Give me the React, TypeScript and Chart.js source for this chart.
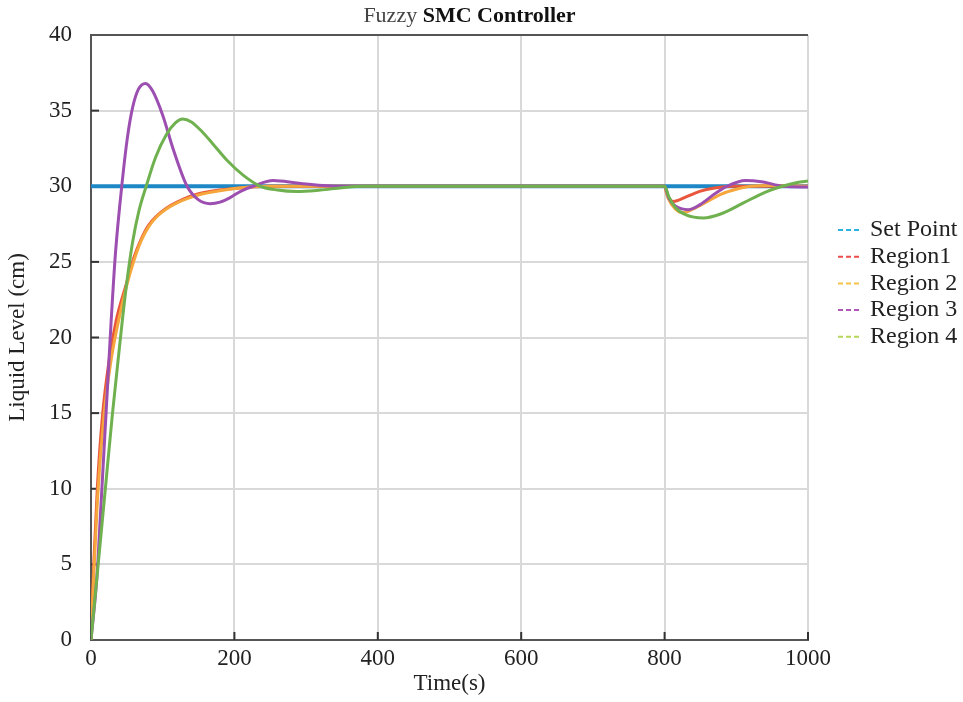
import React, { useEffect, useRef } from "react";
import { Chart, registerables } from "chart.js";

Chart.register(...registerables);

const titleNormal = "Fuzzy ";
const titleBold = "SMC Controller";
const xAxisTitle = "Time(s)";
const yAxisTitle = "Liquid Level (cm)";

const seriesNames = ["Set Point", "Region1", "Region 2", "Region 3", "Region 4"];
const lineColors = ["#1e88c7", "#e8573c", "#f5a63d", "#9c4fb0", "#70b14f"];
const legendColors = ["#2bb2e0", "#ee4b4b", "#f6c24c", "#b057b8", "#b6d65a"];
const lineWidths = [4, 3, 3, 3, 3];

const xTicks = [0, 200, 400, 600, 800, 1000];
const yTicks = [0, 5, 10, 15, 20, 25, 30, 35, 40];

const setPointTime = [0, 1000];
const setPointLevel = [30, 30];

const region1Time = [0, 4, 9, 16, 25, 35, 49, 60, 70, 80, 92, 105, 120, 150, 200, 250, 400, 600, 800, 803, 812, 830, 849, 870, 895, 950, 1000];
const region1Level = [0, 5.2, 10.2, 14.8, 18.4, 21.1, 23.5, 25.3, 26.5, 27.4, 28.05, 28.55, 28.95, 29.5, 29.85, 30, 30, 30, 30, 29.5, 29.0, 29.3, 29.66, 29.88, 30, 30, 30];

const region2Time = [0, 4, 9, 18, 27, 37, 49, 60, 70, 80, 92, 105, 120, 135, 152, 180, 200, 250, 400, 600, 800, 805, 815, 825, 840, 860, 880, 900, 920, 950, 1000];
const region2Level = [0, 4.5, 9.3, 14.8, 18.2, 20.8, 23.3, 25.1, 26.4, 27.3, 28.0, 28.5, 28.9, 29.2, 29.45, 29.7, 29.85, 30, 30, 30, 30, 29.2, 28.5, 28.25, 28.5, 29.0, 29.5, 29.8, 30.0, 30.05, 30];

const region3Time = [0, 8, 14, 21, 28, 34, 44, 51, 58, 66, 76, 86, 100, 115, 134, 150, 166, 180, 194, 210, 226, 254, 290, 348, 400, 600, 800, 806, 815, 833, 850, 870, 887, 913, 935, 966, 1000];
const region3Level = [0, 4, 9, 15, 21, 25.5, 30.5, 33.3, 35.2, 36.4, 36.8, 36.3, 34.7, 32.4, 30, 29.1, 28.85, 28.95, 29.25, 29.7, 30.0, 30.38, 30.2, 30.0, 30, 30, 30, 29.2, 28.7, 28.45, 28.8, 29.5, 30.0, 30.38, 30.3, 30.0, 29.95];

const region4Time = [0, 10, 20, 30, 40, 49, 58, 67, 77, 90, 105, 118, 128, 140, 155, 170, 190, 213, 236, 260, 287, 320, 350, 380, 600, 800, 806, 815, 830, 854, 880, 910, 940, 964, 985, 1000];
const region4Level = [0, 5, 10, 15, 19.5, 23.3, 26.3, 28.4, 30, 31.9, 33.4, 34.2, 34.45, 34.25, 33.6, 32.8, 31.7, 30.7, 30.0, 29.75, 29.65, 29.75, 29.9, 30, 30, 30, 29.3, 28.6, 28.1, 27.9, 28.2, 28.9, 29.6, 30.0, 30.25, 30.35];

const seriesTimes = [setPointTime, region1Time, region2Time, region3Time, region4Time];
const seriesLevels = [setPointLevel, region1Level, region2Level, region3Level, region4Level];

const FONT = '"Liberation Serif", "Times New Roman", serif';

const overlayPlugin = {
  id: "overlay",
  beforeDatasetsDraw(chart: any) {
    const { ctx, chartArea, scales } = chart;
    ctx.save();
    ctx.strokeStyle = "#333";
    ctx.lineWidth = 2;
    yTicks.forEach((v) => {
      if (v === 0 || v === 40) return;
      const py = scales.y.getPixelForValue(v);
      ctx.beginPath();
      ctx.moveTo(chartArea.left, py);
      ctx.lineTo(chartArea.left + 8, py);
      ctx.stroke();
    });
    xTicks.forEach((v) => {
      if (v === 0) return;
      const px = scales.x.getPixelForValue(v);
      ctx.beginPath();
      ctx.moveTo(px, chartArea.bottom);
      ctx.lineTo(px, chartArea.bottom - 8);
      ctx.stroke();
    });
    ctx.restore();
  },
  afterDraw(chart: any) {
    const { ctx, chartArea } = chart;
    ctx.save();
    ctx.textBaseline = "middle";
    ctx.textAlign = "left";
    ctx.font = `22px ${FONT}`;
    const w1 = ctx.measureText(titleNormal).width;
    ctx.font = `bold 22px ${FONT}`;
    const w2 = ctx.measureText(titleBold).width;
    const cx = (chartArea.left + chartArea.right) / 2 + 20;
    const tx = cx - (w1 + w2) / 2;
    ctx.font = `22px ${FONT}`;
    ctx.fillStyle = "#444";
    ctx.fillText(titleNormal, tx, 16);
    ctx.font = `bold 22px ${FONT}`;
    ctx.fillStyle = "#111";
    ctx.fillText(titleBold, tx + w1, 16);
    const lx = chartArea.right + 30;
    seriesNames.forEach((name, i) => {
      const ly = chartArea.top + 195 + i * 26.7;
      ctx.strokeStyle = legendColors[i];
      ctx.lineWidth = 2;
      ctx.setLineDash([5, 3]);
      ctx.beginPath();
      ctx.moveTo(lx, ly);
      ctx.lineTo(lx + 24, ly);
      ctx.stroke();
      ctx.setLineDash([]);
      ctx.fillStyle = "#222";
      ctx.font = `24px ${FONT}`;
      ctx.fillText(name, lx + 32, ly);
    });
    ctx.restore();
  },
};

export default function App() {
  const canvasRef = useRef<HTMLCanvasElement | null>(null);

  useEffect(() => {
    if (!canvasRef.current) return;
    const datasets = seriesNames.map((name, i) => ({
      label: name,
      data: seriesTimes[i].map((t, j) => ({ x: t, y: seriesLevels[i][j] })),
      borderColor: lineColors[i],
      backgroundColor: lineColors[i],
      borderWidth: lineWidths[i],
      pointRadius: 0,
      cubicInterpolationMode: "monotone" as const,
      fill: false,
      order: seriesNames.length - 1 - i,
    }));

    const chart = new Chart(canvasRef.current, {
      type: "line",
      data: { datasets },
      plugins: [overlayPlugin],
      options: {
        animation: false,
        responsive: true,
        maintainAspectRatio: false,
        layout: { padding: { top: 35, right: 155, left: 0, bottom: 0 } },
        plugins: {
          legend: { display: false },
          title: { display: false },
          tooltip: { enabled: false },
        },
        scales: {
          x: {
            type: "linear",
            min: 0,
            max: 1000,
            afterBuildTicks: (s: any) => {
              s.ticks = xTicks.map((v) => ({ value: v }));
            },
            afterFit: (s: any) => {
              s.height = 62;
            },
            ticks: {
              color: "#222",
              padding: 5,
              maxRotation: 0,
              font: { family: FONT, size: 23 },
              callback: (v: any) => String(v),
            },
            grid: { color: "#d9d9d9", lineWidth: 2, drawTicks: false },
            border: { color: "#555", width: 2 },
            title: {
              display: true,
              text: xAxisTitle,
              color: "#222",
              font: { family: FONT, size: 23 },
              padding: { top: 0, bottom: 4 },
            },
          },
          y: {
            type: "linear",
            min: 0,
            max: 40,
            afterBuildTicks: (s: any) => {
              s.ticks = yTicks.map((v) => ({ value: v }));
            },
            afterFit: (s: any) => {
              s.width = 91;
            },
            ticks: {
              color: "#222",
              padding: 19,
              font: { family: FONT, size: 23 },
              callback: (v: any) => String(v),
            },
            grid: {
              color: (c: any) => (c.tick && c.tick.value === 40 ? "#555" : "#d9d9d9"),
              lineWidth: 2,
              drawTicks: false,
            },
            border: { color: "#555", width: 2 },
            title: {
              display: true,
              text: yAxisTitle,
              color: "#222",
              font: { family: FONT, size: 23 },
              padding: { top: 4, bottom: 0 },
            },
          },
        },
      },
    });
    return () => chart.destroy();
  }, []);

  return (
    <div style={{ position: "absolute", left: 0, top: 0, width: 963, height: 702, background: "#fff" }}>
      <canvas ref={canvasRef} />
    </div>
  );
}
